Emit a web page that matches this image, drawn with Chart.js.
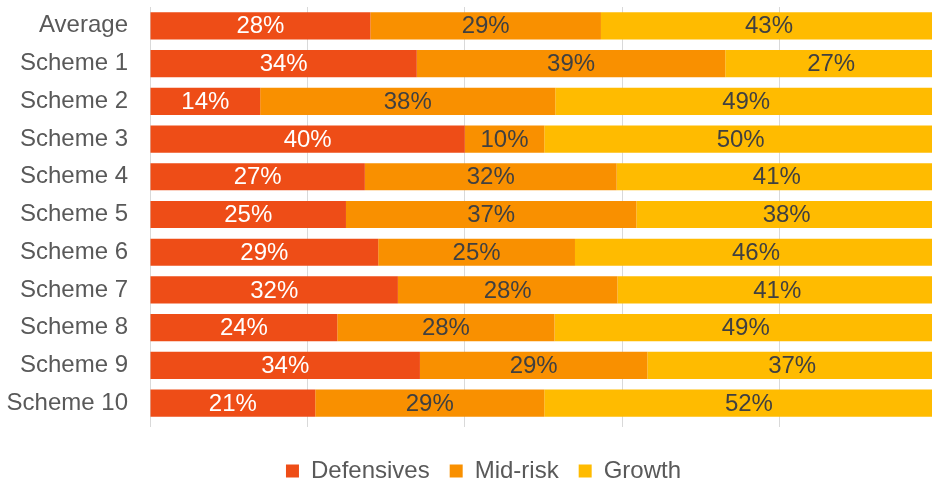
<!DOCTYPE html>
<html>
<head>
<meta charset="utf-8">
<script src="https://cdn.jsdelivr.net/npm/chart.js@4"></script>
<style>
  html, body { margin: 0; padding: 0; background: #fff; overflow: hidden; }
  #wrap { width: 937px; height: 493px; }
</style>
</head>
<body>
<div id="wrap"><canvas id="mix"></canvas></div>
<script>
const schemes = ['Average', 'Scheme 1', 'Scheme 2', 'Scheme 3', 'Scheme 4', 'Scheme 5', 'Scheme 6', 'Scheme 7', 'Scheme 8', 'Scheme 9', 'Scheme 10'];
const defensives = [28.0, 33.9, 14.0, 40.0, 27.3, 24.9, 29.0, 31.5, 23.8, 34.3, 21.0];
const midRisk = [29.3, 39.2, 37.5, 10.1, 32.0, 36.9, 25.0, 27.9, 27.6, 28.9, 29.1];
const growth = [42.7, 26.9, 48.5, 49.9, 40.7, 38.2, 46.0, 40.6, 48.6, 36.8, 52.0];

const textGrey = '#595959';
const fontFamily = '"Liberation Sans", Arial, sans-serif';

// writes the % on each bar segment
const barLabels = {
  id: 'barLabels',
  afterDatasetsDraw(chart) {
    const ctx = chart.ctx;
    ctx.save();
    ctx.font = '24px ' + fontFamily;
    ctx.textAlign = 'center';
    ctx.textBaseline = 'middle';
    chart.data.datasets.forEach((ds, i) => {
      chart.getDatasetMeta(i).data.forEach((bar, j) => {
        ctx.fillStyle = i === 0 ? '#ffffff' : '#404040';
        const cx = (bar.x + bar.base) / 2;
        ctx.fillText(Math.round(ds.data[j]) + '%', cx, bar.y + 1);
      });
    });
    ctx.restore();
  }
};

// legend sits a bit right of centre in the original
const nudgeLegend = {
  id: 'nudgeLegend',
  afterLayout(chart) {
    chart.legend.left += 15;
    chart.legend.right += 15;
  }
};

new Chart(document.getElementById('mix'), {
  type: 'bar',
  data: {
    labels: schemes,
    datasets: [
      { label: 'Defensives', data: defensives, backgroundColor: '#EE4D17' },
      { label: 'Mid-risk', data: midRisk, backgroundColor: '#F99000' },
      { label: 'Growth', data: growth, backgroundColor: '#FFBB00' }
    ]
  },
  options: {
    indexAxis: 'y',
    responsive: true,
    maintainAspectRatio: false,
    animation: false,
    layout: { padding: { top: 7, left: 0, right: 0, bottom: 0 } },
    datasets: {
      bar: { categoryPercentage: 0.72, barPercentage: 1, borderWidth: 0 }
    },
    scales: {
      x: {
        stacked: true,
        min: 0,
        max: 100,
        afterFit(scale) { scale.height = 17; },
        ticks: { display: false, stepSize: 20 },
        grid: { color: '#d9d9d9', lineWidth: 1, drawTicks: true, tickLength: 5 },
        border: { display: false }
      },
      y: {
        stacked: true,
        afterFit(scale) {
          scale.width = 150;
          scale.paddingTop = 0;
          scale.paddingBottom = 0;
        },
        ticks: {
          color: textGrey,
          padding: 22,
          font: { family: fontFamily, size: 24 }
        },
        grid: { display: false, drawTicks: false },
        border: { display: false }
      }
    },
    plugins: {
      legend: {
        position: 'bottom',
        labels: {
          color: textGrey,
          boxWidth: 13,
          boxHeight: 13,
          padding: 20,
          font: { family: fontFamily, size: 24 }
        }
      },
      tooltip: { enabled: false }
    }
  },
  plugins: [barLabels, nudgeLegend]
});
</script>
</body>
</html>
